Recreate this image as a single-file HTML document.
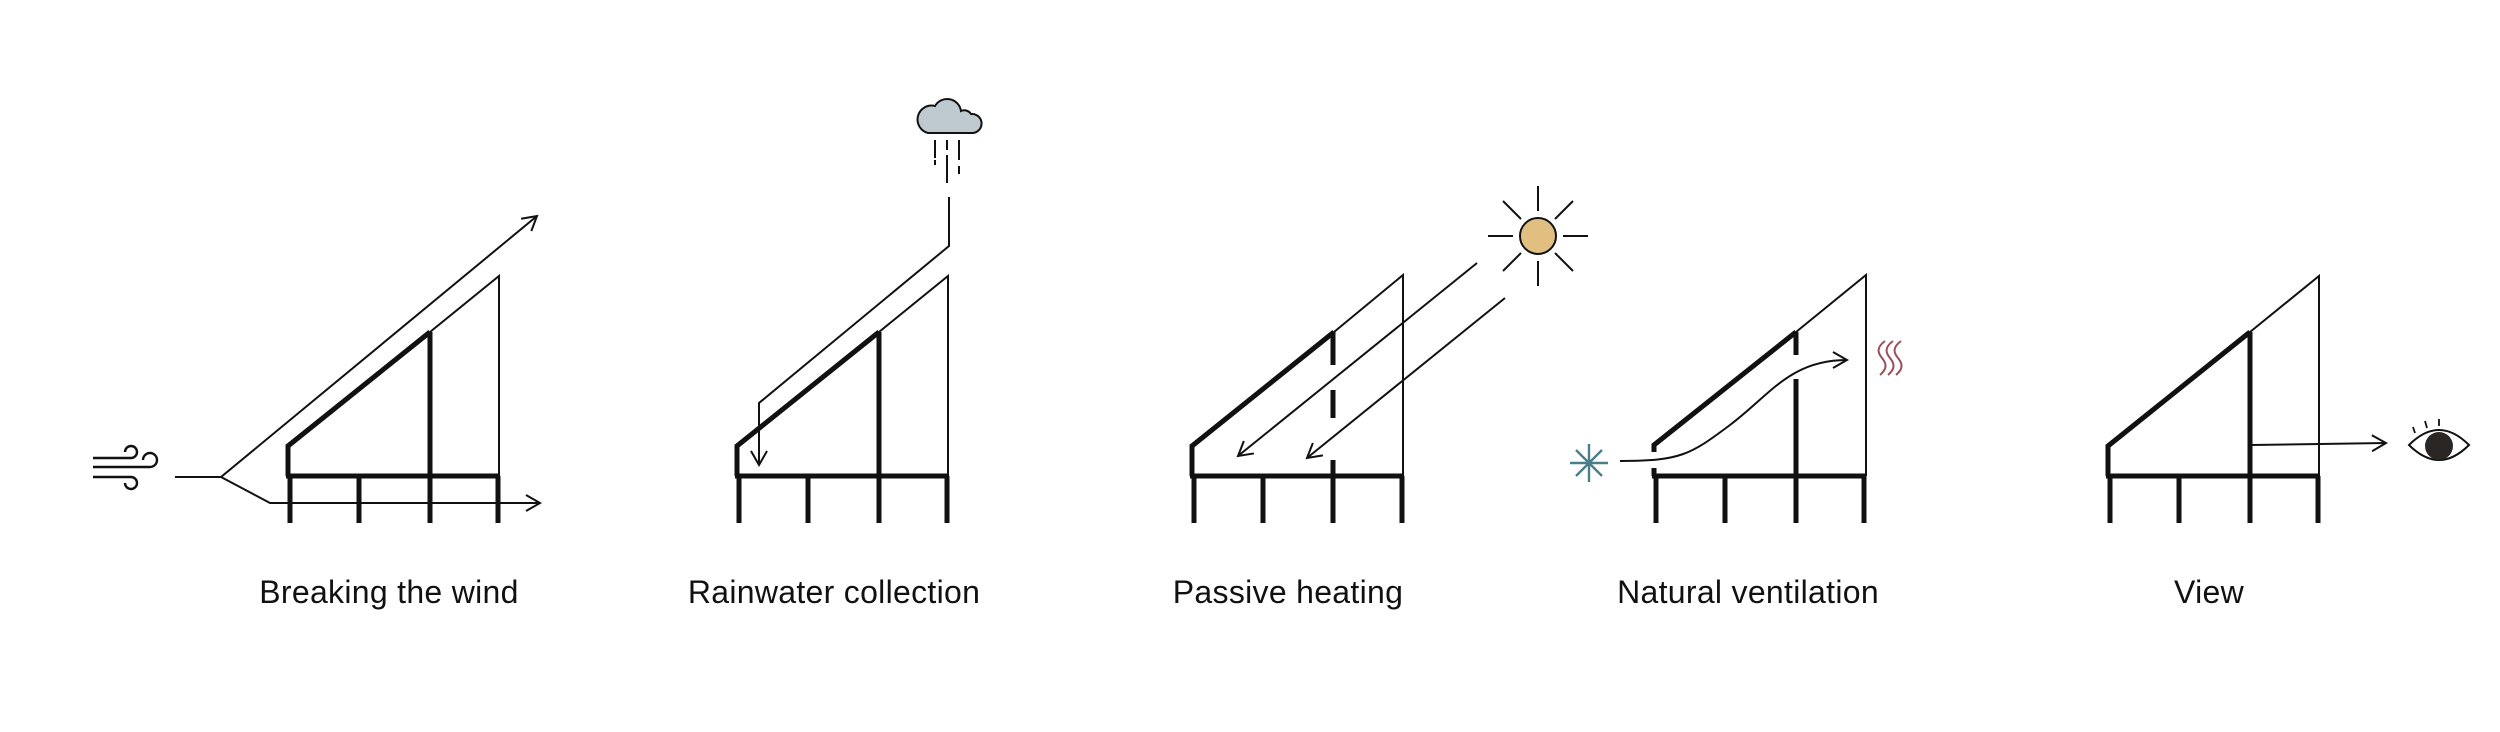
<!DOCTYPE html>
<html><head><meta charset="utf-8"><style>
html,body{margin:0;padding:0;background:#fff;}
svg{display:block}
text{font-family:"Liberation Sans",sans-serif;font-size:32px;letter-spacing:0.3px;fill:#111;}
</style></head><body>
<svg width="2500" height="732" viewBox="0 0 2500 732" xmlns="http://www.w3.org/2000/svg">
<defs>
<marker id="ah2" viewBox="0 0 18 18" refX="16" refY="9" markerWidth="18" markerHeight="18" markerUnits="userSpaceOnUse" orient="auto">
<path d="M2,1 L16,9 L2,17" fill="none" stroke="#111" stroke-width="2"/>
</marker>
</defs>
<g stroke="#111" fill="none" stroke-linecap="butt">
<g>
<path d="M288,476 L288,446 L430,332" stroke-width="5"/>
<path d="M286,476 L500,476" stroke-width="5"/>
<path d="M430,332 L430,523" stroke-width="5"/>
<path d="M290,476V523M359,476V523M498,476V523" stroke-width="5"/>
<path d="M430,332 L499,276 L499,476" stroke-width="2"/>
</g>
<path d="M175,477 H221 L537,216" stroke-width="2" marker-end="url(#ah2)"/>
<path d="M221,477 L270,503 H540" stroke-width="2" marker-end="url(#ah2)"/>
<g stroke-width="2.4">
<path d="M93,458 H131 A6,6 0 1 0 125,452"/>
<path d="M93,467 H150 A7,7 0 1 0 143,460"/>
<path d="M93,477 H131 A6,6 0 1 1 125,483"/>
</g>

<g transform="translate(449,0)">
<path d="M288,476 L288,446 L430,332" stroke-width="5"/>
<path d="M286,476 L500,476" stroke-width="5"/>
<path d="M430,332 L430,523" stroke-width="5"/>
<path d="M290,476V523M359,476V523M498,476V523" stroke-width="5"/>
<path d="M430,332 L499,276 L499,476" stroke-width="2"/>
</g>
<path d="M949,197 V246 L759,403 V465" stroke-width="2" marker-end="url(#ah2)"/>
<path d="M928,133 H973 A8,8 0 0 0 971,114 A8,8 0 0 0 961,111 A14,14 0 0 0 935,106 A12,12 0 0 0 928,133 Z" fill="#bfc9d0" stroke-width="2"/>
<path d="M935,140V158M935,160V165M947,140V150M947,155V183M959,140V160M959,166V174" stroke-width="2"/>

<g transform="translate(904,0)">
<path d="M288,476 L288,446 L430,332" stroke-width="5"/>
<path d="M286,476 L500,476" stroke-width="5"/>
<path d="M429,332V365M429,390V418M429,460V523" stroke-width="5"/>
<path d="M290,476V523M359,476V523M498,476V523" stroke-width="5"/>
<path d="M430,332 L499,275 L499,476" stroke-width="2"/>
</g>
<path d="M1477,263 L1238,456" stroke-width="2" marker-end="url(#ah2)"/>
<path d="M1505,298 L1307,458" stroke-width="2" marker-end="url(#ah2)"/>
<circle cx="1538" cy="236" r="18" fill="#e0bf80" stroke-width="2"/>
<g stroke-width="2">
<path d="M1538,186V211M1538,261V286M1488,236H1513M1563,236H1588"/>
<path d="M1503,201L1521,219M1555,253L1573,271M1573,201L1555,219M1521,253L1503,271"/>
</g>

<g transform="translate(1366,0)">
<path d="M288,452 L288,445 L430,332" stroke-width="5"/>
<path d="M288,468 L288,476" stroke-width="5"/>
<path d="M286,476 L500,476" stroke-width="5"/>
<path d="M430,332V355M430,379V523" stroke-width="5"/>
<path d="M290,476V523M359,476V523M498,476V523" stroke-width="5"/>
<path d="M430,332 L500,275 L500,476" stroke-width="2"/>
</g>
<path d="M1620,461 C1680,461 1690,455 1730,425 C1770,395 1790,360 1847,360" stroke-width="2" marker-end="url(#ah2)"/>
<g stroke="#4a7f8a" stroke-width="2.4">
<path d="M1589,444V482M1570,463H1608M1576,450L1602,476M1602,450L1576,476"/>
</g>
<g stroke="#9b4d5a" stroke-width="2">
<path d="M1885,341 C1877,347 1877,352 1882,358 C1887,364 1887,369 1880,375"/>
<path d="M1893,341 C1885,347 1885,352 1890,358 C1895,364 1895,369 1888,375"/>
<path d="M1901,341 C1893,347 1893,352 1898,358 C1903,364 1903,369 1896,375"/>
</g>

<g transform="translate(1820,0)">
<path d="M288,476 L288,446 L430,332" stroke-width="5"/>
<path d="M286,476 L500,476" stroke-width="5"/>
<path d="M430,332 L430,523" stroke-width="5"/>
<path d="M290,476V523M359,476V523M498,476V523" stroke-width="5"/>
<path d="M430,332 L499,276 L499,476" stroke-width="2"/>
</g>
<path d="M2251,445 L2386,443" stroke-width="2" marker-end="url(#ah2)"/>
<path d="M2409,445 Q2439,415 2469,445 Q2439,475 2409,445 Z" stroke-width="2" fill="#fff"/>
<circle cx="2439" cy="446" r="14" fill="#2a2624" stroke="none"/>
<path d="M2415,433L2413,427M2427,428L2425,421M2439,426V419" stroke-width="1.8"/>
</g>

<text x="389" y="603" text-anchor="middle">Breaking the wind</text>
<text x="834" y="603" text-anchor="middle">Rainwater collection</text>
<text x="1288" y="603" text-anchor="middle">Passive heating</text>
<text x="1748" y="603" text-anchor="middle">Natural ventilation</text>
<text x="2209" y="603" text-anchor="middle">View</text>
</svg>
</body></html>
